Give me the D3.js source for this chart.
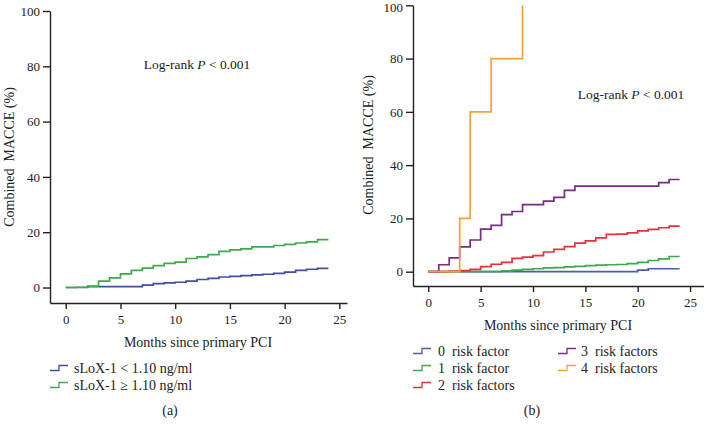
<!DOCTYPE html>
<html><head><meta charset="utf-8">
<script src="https://cdn.jsdelivr.net/npm/d3@7"></script>
<style>
body{margin:0;background:#fff;}
text{font-family:"Liberation Serif","DejaVu Serif",serif;fill:#222;white-space:pre;}
</style></head>
<body><svg id="c" width="704" height="429"></svg>
<script>
// ---- data ----
const months = [0,1,2,3,4,5,6,7,8,9,10,11,12,13,14,15,16,17,18,19,20,21,22,23,24];
const xTicks = [0,5,10,15,20,25];
const yTicks = [0,20,40,60,80,100];
// Panel (a)
const seriesA_names = ["sLoX-1 < 1.10 ng/ml", "sLoX-1 \u2265 1.10 ng/ml"];
const lowLoX  = [0,0,0.3,0.3,0.3,0.3,0.3,0.9,1.4,1.7,1.9,2.3,2.9,3.3,3.8,4.0,4.3,4.6,4.8,5.1,5.6,6.2,6.6,6.9,6.9];
const highLoX = [0,0.1,0.5,2.3,3.5,4.9,6.2,7.0,7.9,8.7,9.2,10.5,11.1,11.9,13.1,13.6,14.0,14.7,14.7,15.2,15.6,16.1,16.5,17.3,17.3];
// Panel (b)
const seriesB_names = ["0  risk factor","1  risk factor","2  risk factors","3  risk factors","4  risk factors"];
const risk0 = [0,0,0,0,0,0,0,0,0,0,0,0,0,0,0,0,0,0,0,0,0.6,1.1,1.1,1.1,1.1];
const risk1 = [0,0,0,0,0,0,0,0.3,0.6,0.9,1.1,1.4,1.5,1.8,2.0,2.3,2.5,2.6,2.7,3.0,3.5,4.2,4.8,5.7,5.7];
const risk2 = [0,0,0.2,0.4,0.9,1.9,2.8,3.5,5.0,5.5,6.0,7.4,8.4,9.4,10.7,11.6,12.7,14.0,14.1,14.6,15.3,15.9,16.5,17.1,17.1];
const risk3 = [0,2.6,5.2,9.3,11.9,16.0,17.4,21.4,22.6,25.2,25.2,26.5,27.9,30.5,32.1,32.1,32.1,32.1,32.1,32.1,32.1,32.1,33.4,34.6,34.6];
const risk4Months = [0,3,4,6,9];
const risk4 = [0,20,60,80,100];

const colA = ["#3f4f9e","#3faa4a"];
const colB = ["#4a5eab","#3faa4a","#e0333f","#7a2a87","#f5a236"];

const svg = d3.select("#c");

function panel(cfg){
  const g = svg.append("g");
  const x = d3.scaleLinear().domain(cfg.xd).range(cfg.xr);
  const y = d3.scaleLinear().domain(cfg.yd).range(cfg.yr);
  const xa = g.append("g").attr("transform",`translate(0,${cfg.yr[0]})`)
    .call(d3.axisBottom(x).tickValues(xTicks).tickSize(6).tickPadding(6).tickSizeOuter(0).tickFormat(d3.format("d")));
  const ya = g.append("g").attr("transform",`translate(${cfg.xr[0]},0)`)
    .call(d3.axisLeft(y).tickValues(yTicks).tickSize(7).tickPadding(3).tickSizeOuter(0).tickFormat(d3.format("d")));
  [xa,ya].forEach(a=>{
    a.selectAll("path,line").attr("stroke","#222").attr("stroke-width",1.4);
    a.selectAll("text").style("font-size","13px").style("font-family","Liberation Serif, serif").attr("fill","#222");
  });
  // keep the top tick label inside the page
  ya.selectAll(".tick text").filter(d=>y(d) < 8).attr("dy","0.5em");
  const line = d3.line().x(d=>x(d[0])).y(d=>y(d[1])).curve(d3.curveStepAfter);
  cfg.series.forEach((s,i)=>{
    g.append("path").datum(s.t.map((t,j)=>[t,s.v[j]]))
      .attr("d",line).attr("fill","none").attr("stroke",s.c).attr("stroke-width",1.7);
  });
  // y title
  g.append("text").attr("transform",`translate(${cfg.ytx},${cfg.yty}) rotate(-90)`)
    .attr("text-anchor","middle").attr("dominant-baseline","central").style("font-size","14px")
    .text("Combined  MACCE (%)");
  // x title
  g.append("text").attr("x",cfg.xtx).attr("y",cfg.xty).attr("text-anchor","middle")
    .attr("dominant-baseline","central").style("font-size","14px").text("Months since primary PCI");
  // log-rank
  const lr = g.append("text").attr("x",cfg.lrx).attr("y",cfg.lry).attr("text-anchor","middle")
    .attr("dominant-baseline","central").style("font-size","13.5px");
  lr.append("tspan").text("Log-rank ");
  lr.append("tspan").style("font-style","italic").text("P");
  lr.append("tspan").text(" < 0.001");
  // legend
  cfg.legend.forEach(l=>{
    const ix = l.x, iy = l.y;
    g.append("path").attr("d",`M${ix},${iy+2.5}H${ix+9}V${iy-2.5}H${ix+18}`)
      .attr("fill","none").attr("stroke",l.c).attr("stroke-width",1.3);
    g.append("text").attr("x",ix+l.tx).attr("y",iy).attr("dominant-baseline","central")
      .style("font-size","14px").text(l.name);
  });
  g.append("text").attr("x",cfg.capx).attr("y",cfg.capy).attr("text-anchor","middle")
    .attr("dominant-baseline","central").style("font-size","14px").text(cfg.cap);
}

panel({
  xd:[-1.44,25.7], xr:[50,347], yd:[-5.6,100], yr:[303,11],
  series:[{t:months,v:lowLoX,c:colA[0]},{t:months,v:highLoX,c:colA[1]}],
  ytx:9, yty:157, xtx:198, xty:342, lrx:197, lry:64,
  legend:[{x:50,y:368,c:colA[0],name:seriesA_names[0],tx:24},{x:50,y:385,c:colA[1],name:seriesA_names[1],tx:24}],
  cap:"(a)", capx:170, capy:410
});
panel({
  xd:[-1.46,26.33], xr:[413,704], yd:[-5.37,100], yr:[286,5.3],
  series:[{t:months,v:risk0,c:colB[0]},{t:months,v:risk1,c:colB[1]},{t:months,v:risk2,c:colB[2]},
          {t:months,v:risk3,c:colB[3]},{t:risk4Months,v:risk4,c:colB[4]}],
  ytx:368, yty:145, xtx:558, xty:325, lrx:631, lry:94,
  legend:[{x:413,y:351,c:colB[0],name:seriesB_names[0],tx:25},{x:413,y:368,c:colB[1],name:seriesB_names[1],tx:25},
          {x:413,y:385,c:colB[2],name:seriesB_names[2],tx:25},{x:558,y:351,c:colB[3],name:seriesB_names[3],tx:23},
          {x:558,y:368,c:colB[4],name:seriesB_names[4],tx:23}],
  cap:"(b)", capx:532, capy:410
});
</script></body></html>
